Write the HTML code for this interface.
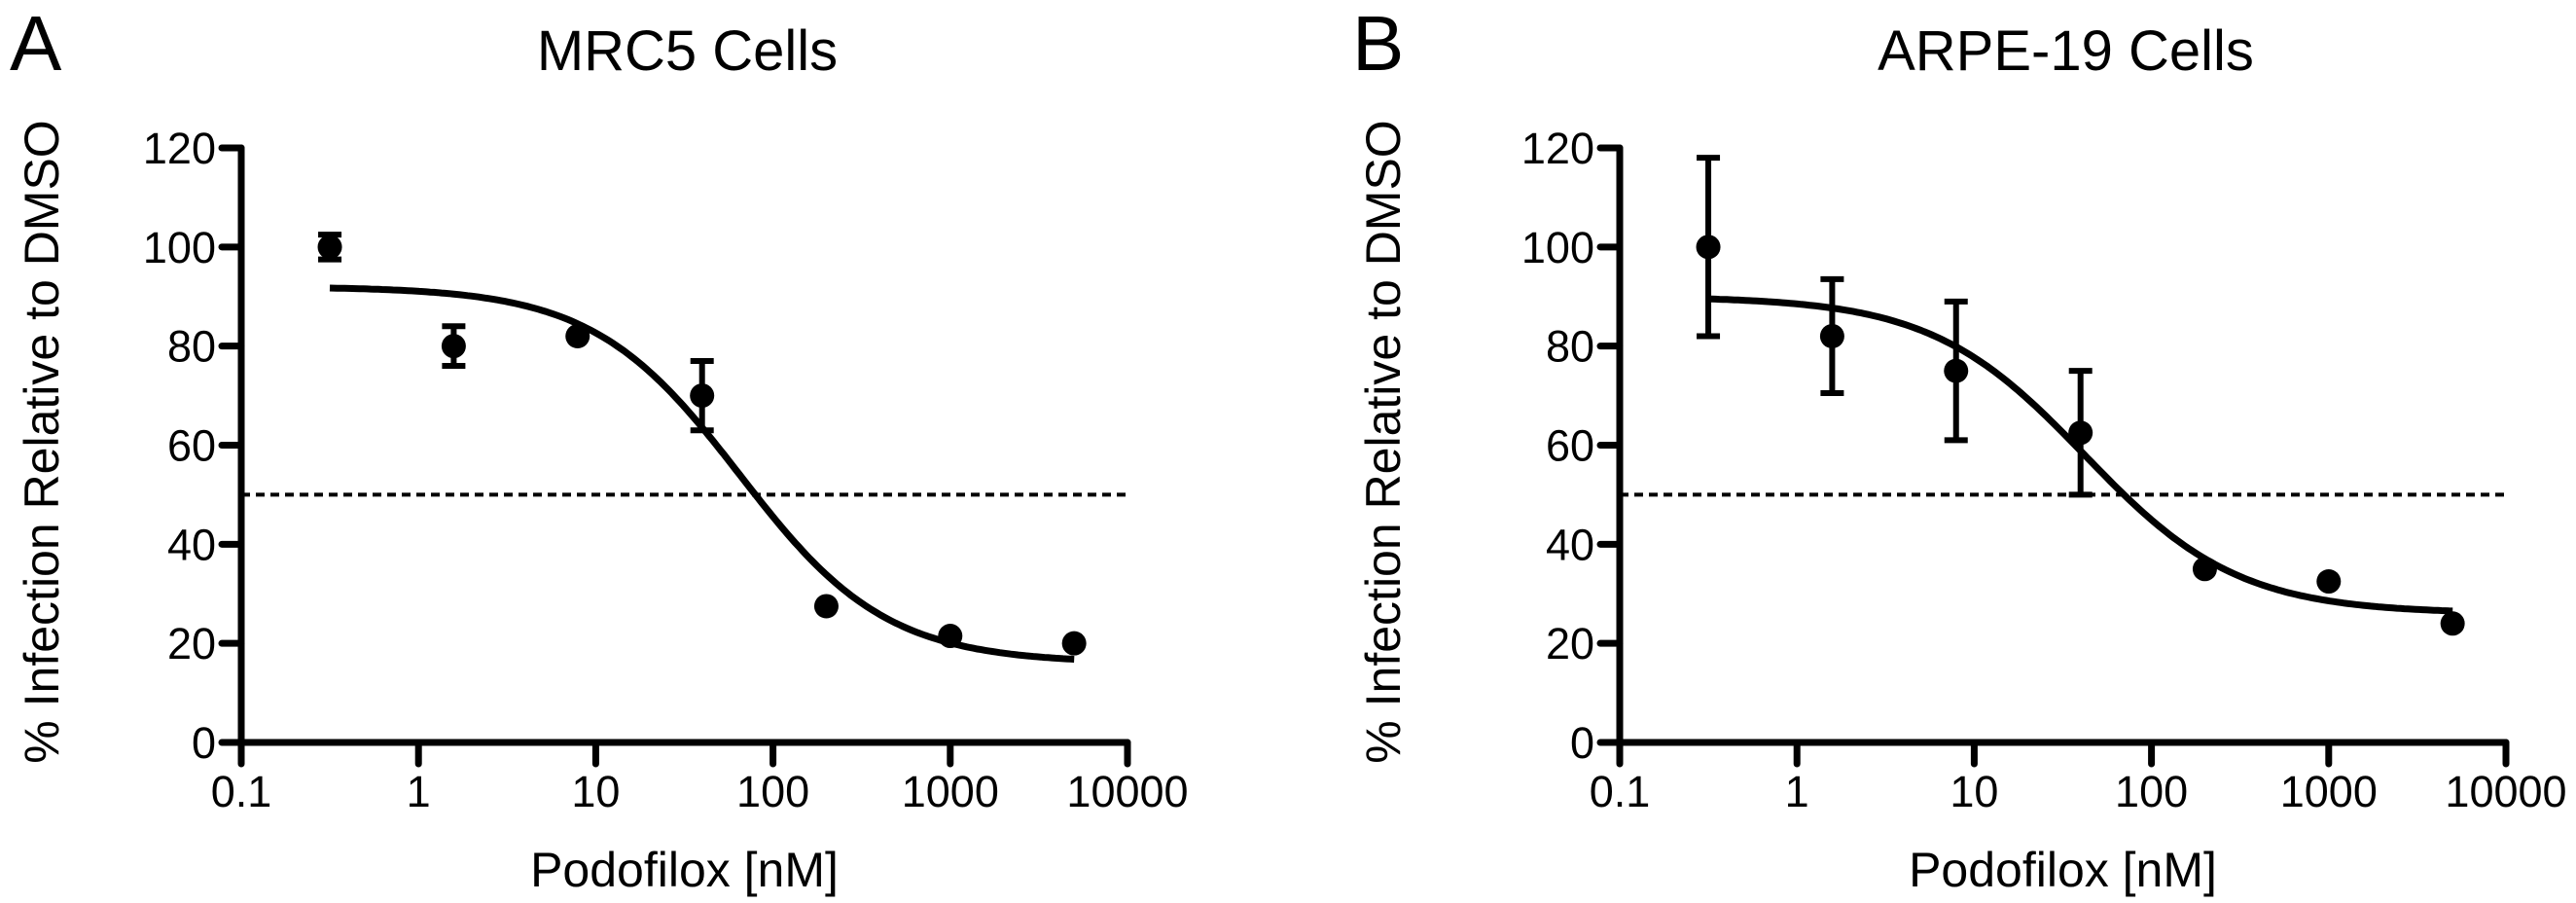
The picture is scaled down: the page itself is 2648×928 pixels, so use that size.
<!DOCTYPE html>
<html><head><meta charset="utf-8"><style>
html,body{margin:0;padding:0;background:#fff;}
svg{display:block;font-family:"Liberation Sans",Arial,sans-serif;}
</style></head><body>
<svg id="fig" width="2648" height="928" viewBox="0 0 2648 928"></svg>
<script>
const xTicks = [0.1, 1, 10, 100, 1000, 10000];
const xTickLabels = ["0.1", "1", "10", "100", "1000", "10000"];
const yTicks = [0, 20, 40, 60, 80, 100, 120];
const doses = [0.316, 1.58, 7.9, 39.8, 200, 1000, 5000];
const mrc5Values = [100, 80, 82, 70, 27.5, 21.5, 20];
const mrc5Err = [2.5, 4, 0, 7, 0, 0, 0];
const arpeValues = [100, 82, 75, 62.5, 35, 32.5, 24];
const arpeErr = [18, 11.5, 14, 12.5, 0, 0, 0];
const mrc5Fit = {top: 92, bottom: 16, ic50: 65, hill: 1.05};
const arpeFit = {top: 90, bottom: 26, ic50: 42, hill: 1.0};
const threshold = 50;

const NS = "http://www.w3.org/2000/svg";
const svg = document.getElementById("fig");
function mk(tag, attrs, parent) {
  const e = document.createElementNS(NS, tag);
  for (const k in attrs) e.setAttribute(k, attrs[k]);
  (parent || svg).appendChild(e);
  return e;
}

function panel(x0, letter, letterX, title, values, errs, fit, key, yTitleX) {
  const g = mk("g", {});
  
  
  const yBase = 763, yTop = 152, decade = 182.2;
  const xs = v => x0 + (Math.log10(v) + 1) * decade;
  const ys = v => yBase - (v / 120) * (yBase - yTop);
  const xEnd = xs(10000);

  const L = mk("text", {x: letterX, y: 72, "font-size": 80}, g);
  L.textContent = letter;
  
  
  const T = mk("text", {x: (x0 + xEnd) / 2 + 3, y: 72, "font-size": 58, "text-anchor": "middle"}, g);
  T.textContent = title;
  
  

  const ax = mk("path", {d: `M${x0} ${yTop} V${yBase} H${xEnd}`, stroke: "#000", "stroke-width": 7, fill: "none", "stroke-linecap": "round"}, g);
  
  

  yTicks.forEach(t => {
    const y = ys(t);
    const tk = mk("line", {x1: x0 - 20, x2: x0, y1: y, y2: y, stroke: "#000", "stroke-width": 7, "stroke-linecap": "round"}, g);
    
    
    const lb = mk("text", {x: x0 - 26, y: y + 16, "font-size": 45, "text-anchor": "end"}, g);
    lb.textContent = t;
    
    
  });
  xTicks.forEach((t, i) => {
    const x = xs(t);
    const tk = mk("line", {x1: x, x2: x, y1: yBase, y2: yBase + 22, stroke: "#000", "stroke-width": 7, "stroke-linecap": "round"}, g);
    
    
    const lb = mk("text", {x: x, y: 829, "font-size": 45, "text-anchor": "middle"}, g);
    lb.textContent = xTickLabels[i];
    
    
  });

  const yt = mk("text", {x: 0, y: 0, "font-size": 50, "text-anchor": "middle", transform: `translate(${yTitleX + 18},${454}) rotate(-90)`}, g);
  yt.textContent = "% Infection Relative to DMSO";
  
  
  const xt = mk("text", {x: (x0 + xEnd) / 2, y: 911, "font-size": 50, "text-anchor": "middle"}, g);
  xt.textContent = "Podofilox [nM]";
  
  

  const dl = mk("line", {x1: x0, x2: xEnd, y1: ys(threshold), y2: ys(threshold), stroke: "#000", "stroke-width": 4, "stroke-dasharray": "9 6"}, g);
  
  

  let d = "";
  const lo = Math.log10(doses[0]), hi = Math.log10(doses[doses.length - 1]);
  for (let i = 0; i <= 200; i++) {
    const lx = lo + (hi - lo) * i / 200, v = Math.pow(10, lx);
    const y = fit.bottom + (fit.top - fit.bottom) / (1 + Math.pow(v / fit.ic50, fit.hill));
    d += (i ? "L" : "M") + xs(v).toFixed(1) + " " + ys(y).toFixed(1);
  }
  const c = mk("path", {d: d, stroke: "#000", "stroke-width": 7, fill: "none"}, g);
  
  

  doses.forEach((dv, i) => {
    const x = xs(dv), y = ys(values[i]);
    if (errs[i] > 0) {
      const y1 = ys(values[i] + errs[i]), y2 = ys(values[i] - errs[i]);
      const eb = mk("path", {d: `M${x} ${y1} V${y2} M${x - 12} ${y1} H${x + 12} M${x - 12} ${y2} H${x + 12}`, stroke: "#000", "stroke-width": 6, fill: "none"}, g);
      
      
    }
    const p = mk("circle", {cx: x, cy: y, r: 12.5, fill: "#000"}, g);
    
    
  });
}
panel(248, "A", 10, "MRC5 Cells", mrc5Values, mrc5Err, mrc5Fit, "mrc5", 42);
panel(1665, "B", 1390, "ARPE-19 Cells", arpeValues, arpeErr, arpeFit, "arpe19", 1421);
</script>
</body></html>
